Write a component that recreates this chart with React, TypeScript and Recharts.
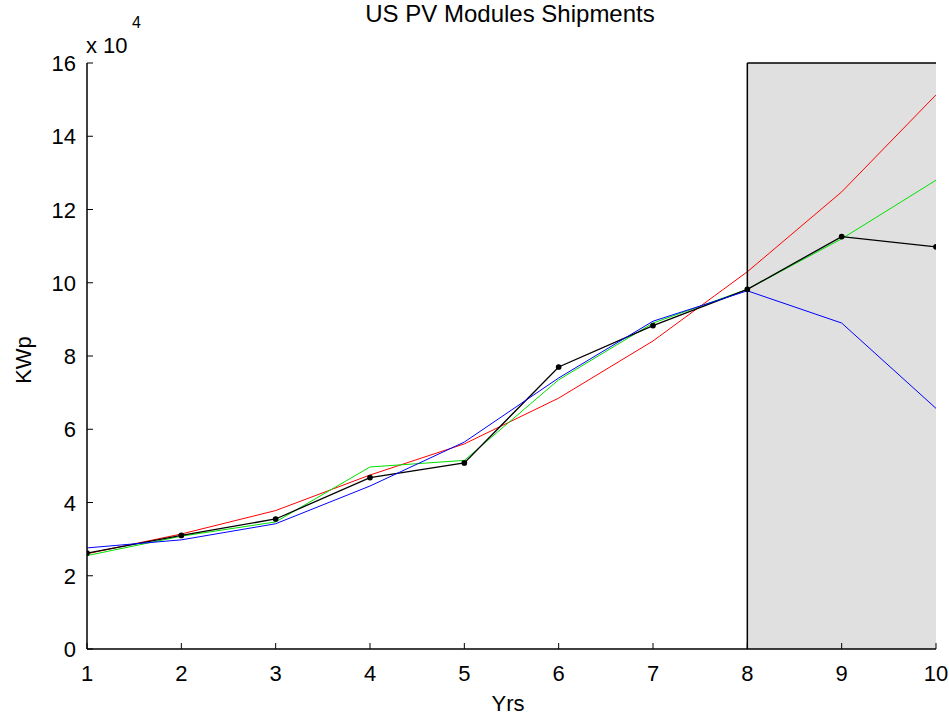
import React from 'react';
import {
  LineChart,
  Line,
  XAxis,
  YAxis,
  ReferenceArea,
  ReferenceLine,
} from 'recharts';

// values are in units of 10^4 KWp
const YEARS = [1, 2, 3, 4, 5, 6, 7, 8, 9, 10];
const ACTUAL = [2.62, 3.1, 3.55, 4.68, 5.08, 7.7, 8.83, 9.82, 11.26, 10.98];
const EXP_FIT = [2.6, 3.14, 3.78, 4.75, 5.6, 6.85, 8.41, 10.3, 12.48, 15.13];
const MODEL_G = [2.55, 3.08, 3.47, 4.97, 5.15, 7.35, 8.9, 9.82, 11.2, 12.8];
const MODEL_B = [2.76, 2.98, 3.42, 4.45, 5.65, 7.4, 8.95, 9.78, 8.9, 6.57];
const Y_TICKS = [0, 2, 4, 6, 8, 10, 12, 14, 16];

const FONT = '"Liberation Sans", Arial, Helvetica, sans-serif';

const data = YEARS.map((yr, i) => ({
  yr,
  actual: ACTUAL[i],
  red: EXP_FIT[i],
  green: MODEL_G[i],
  blue: MODEL_B[i],
}));

const XTick = (props: any) => {
  const { x, y, payload } = props;
  return (
    <g>
      <line x1={x} x2={x} y1={y} y2={y - 6} stroke="#000" strokeWidth={1} />
      <text x={x} y={y + 32} textAnchor="middle" fontSize={22} fontFamily={FONT} fill="#000">
        {payload.value}
      </text>
    </g>
  );
};

const YTick = (props: any) => {
  const { x, y, payload } = props;
  return (
    <g>
      <line x1={x} x2={x + 6} y1={y} y2={y} stroke="#000" strokeWidth={1} />
      <text x={x - 11} y={y + 8} textAnchor="end" fontSize={22} fontFamily={FONT} fill="#000">
        {payload.value}
      </text>
    </g>
  );
};

export default function App() {
  return (
    <div style={{ position: 'absolute', left: 0, top: 0, width: 949, height: 717, background: '#fff' }}>
      <LineChart
        width={949}
        height={717}
        data={data}
        margin={{ top: 63, right: 13, bottom: 28, left: 47 }}
      >
        <ReferenceArea x1={8} x2={10} y1={0} y2={16} fill="#e0e0e0" fillOpacity={1} stroke="none" />
        <XAxis
          dataKey="yr"
          type="number"
          domain={[1, 10]}
          ticks={YEARS}
          height={40}
          tickSize={0}
          tickMargin={0}
          tickLine={false}
          axisLine={{ stroke: '#000', strokeWidth: 1.5 }}
          tick={<XTick />}
          interval={0}
          allowDataOverflow
        />
        <YAxis
          type="number"
          domain={[0, 16]}
          ticks={Y_TICKS}
          width={40}
          tickSize={0}
          tickMargin={0}
          tickLine={false}
          axisLine={{ stroke: '#000', strokeWidth: 1.5 }}
          tick={<YTick />}
          interval={0}
          allowDataOverflow
        />
        <Line dataKey="red" stroke="#ff0000" strokeWidth={1} dot={false} isAnimationActive={false} />
        <Line dataKey="green" stroke="#00e000" strokeWidth={1} dot={false} isAnimationActive={false} />
        <Line
          dataKey="actual"
          stroke="#000"
          strokeWidth={1.3}
          dot={{ r: 2.2, fill: '#000', stroke: '#000' }}
          isAnimationActive={false}
        />
        <Line dataKey="blue" stroke="#0000ff" strokeWidth={1} dot={false} isAnimationActive={false} />
        <ReferenceLine x={8} stroke="#000" strokeWidth={1.5} ifOverflow="visible" />
        <ReferenceLine
          segment={[{ x: 8, y: 16 }, { x: 10, y: 16 }]}
          stroke="#000"
          strokeWidth={1.5}
          ifOverflow="visible"
        />
        <text x={510} y={22} textAnchor="middle" fontSize={24} fontFamily={FONT} fill="#000">
          US PV Modules Shipments
        </text>
        <text x={86} y={53} fontSize={22} fontFamily={FONT} fill="#000">
          x 10
        </text>
        <text x={132} y={28} fontSize={16} fontFamily={FONT} fill="#000">
          4
        </text>
        <text
          x={31}
          y={360}
          transform="rotate(-90 31 360)"
          textAnchor="middle"
          fontSize={22}
          fontFamily={FONT}
          fill="#000"
        >
          KWp
        </text>
        <text x={508} y={711} textAnchor="middle" fontSize={22} fontFamily={FONT} fill="#000">
          Yrs
        </text>
      </LineChart>
    </div>
  );
}
